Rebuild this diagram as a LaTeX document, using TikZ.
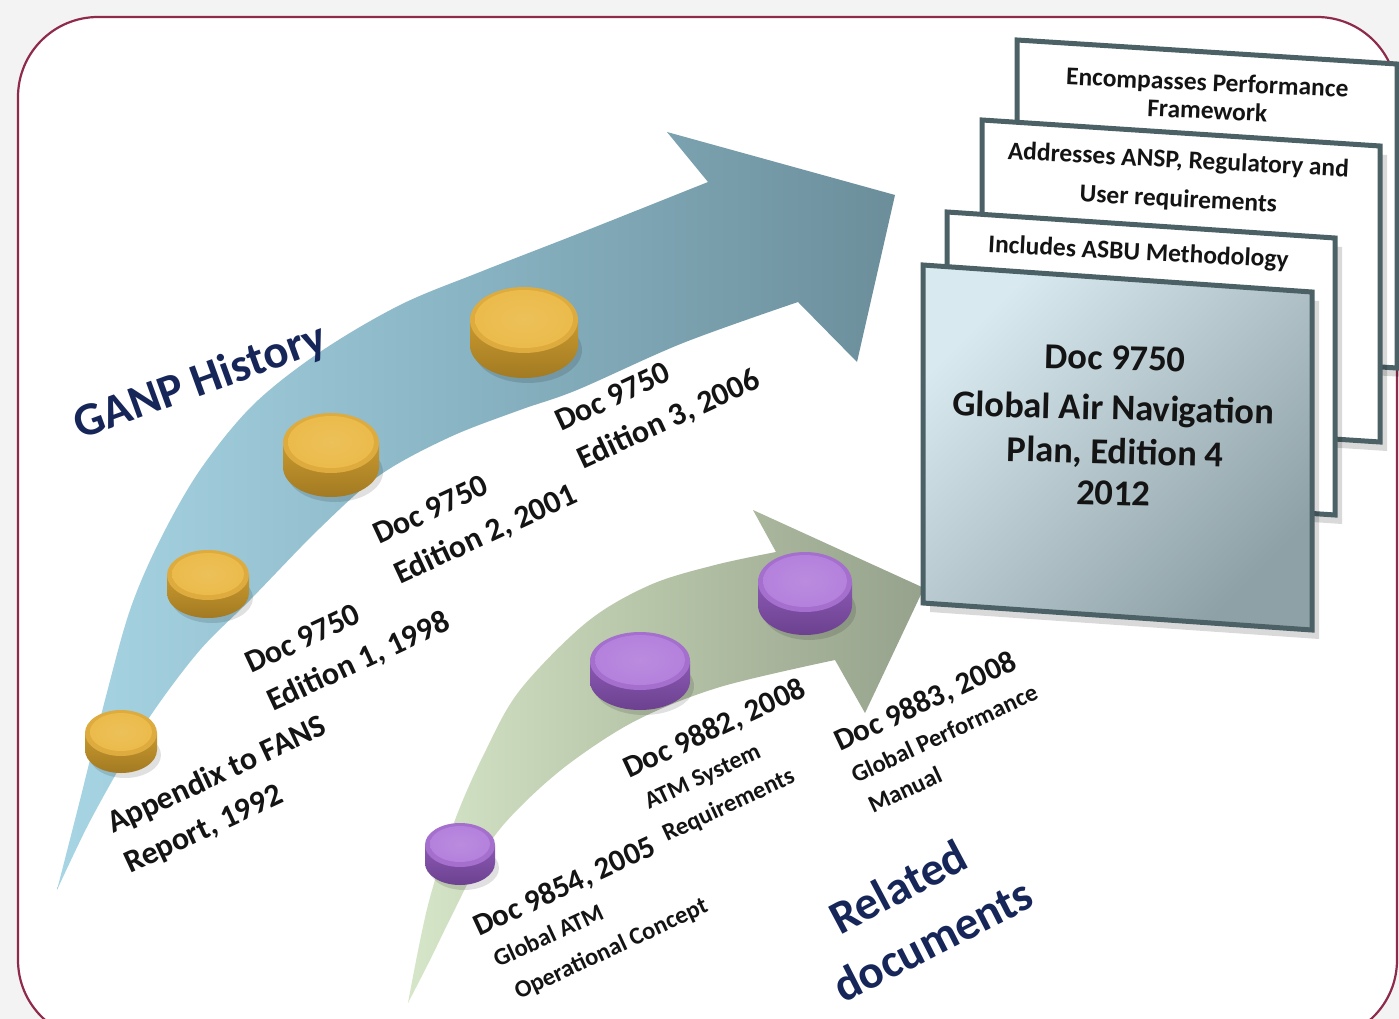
\documentclass[tikz,border=0pt]{standalone}
\usepackage{fontspec}
\setmainfont{Carlito}
\definecolor{bgout}{HTML}{F3F3F3}
\definecolor{framec}{HTML}{8E2B4B}
\definecolor{blueL}{HTML}{A8D5E4}
\definecolor{blueM}{HTML}{88B3C2}
\definecolor{blueD}{HTML}{6C8E9B}
\definecolor{greenL}{HTML}{D6E6C8}
\definecolor{greenM}{HTML}{B4C2A6}
\definecolor{greenD}{HTML}{96A28C}
\definecolor{goldT}{HTML}{EBBB4B}
\definecolor{goldR}{HTML}{DEAB3F}
\definecolor{goldS}{HTML}{C9992F}
\definecolor{goldSD}{HTML}{A27A22}
\definecolor{purT}{HTML}{B481DC}
\definecolor{purR}{HTML}{A46FCD}
\definecolor{purS}{HTML}{8B59B4}
\definecolor{purSD}{HTML}{6C418F}
\definecolor{navy}{HTML}{162659}
\definecolor{txt}{HTML}{141414}
\definecolor{boxedge}{HTML}{4B6165}
\definecolor{boxL}{HTML}{D8E9EF}
\definecolor{boxD}{HTML}{8EA1A7}
\newcommand{\mycoin}[6]{%
  \fill[black, opacity=0.12] (#1+4,#2+#5+5) ellipse[x radius=#3pt, y radius=#4pt];
  \shade[top color=#6S, bottom color=#6SD] (#1-#3,#2) -- (#1-#3,#2+#5) arc[start angle=180, end angle=360, x radius=#3pt, y radius=#4pt] -- (#1+#3,#2) -- cycle;
  \fill[#6R] (#1,#2) ellipse[x radius=#3pt, y radius=#4pt];
  \shade[inner color=#6T!92!white, outer color=#6T] (#1,#2-1) ellipse[x radius=#3pt-5pt, y radius=#4pt-4pt];
}
\begin{document}
\begin{tikzpicture}[x=1pt,y=-1pt,
  lbl/.style={anchor=base west, text=txt, inner sep=0pt, rotate=25, font=\fontsize{32}{38}\selectfont\bfseries},
  dlbl/.style={lbl, font=\fontsize{31}{37}\selectfont\bfseries},
  sublbl/.style={anchor=base west, text=txt, inner sep=0pt, rotate=25, font=\fontsize{24.5}{29}\selectfont\bfseries},
  headlbl/.style={anchor=base west, text=navy, inner sep=0pt, font=\fontsize{47}{54}\selectfont\bfseries},
  boxtxt/.style={anchor=base, text=txt, inner sep=0pt, font=\fontsize{25.5}{30}\selectfont\bfseries},
  maintxt/.style={anchor=base, text=txt, inner sep=0pt, rotate=-1.5, font=\fontsize{36.5}{44}\selectfont\bfseries},
  boxline/.style={draw=boxedge, line width=5pt, line join=miter},
  boxshadow/.style={fill=black, opacity=0.15, shift={(7,9)}}
]
\useasboundingbox (0,0) rectangle (1399,1019);
\clip (0,0) rectangle (1399,1019);
\fill[bgout] (0,0) rectangle (1399,1019);
\draw[framec, line width=2.2pt, fill=white, rounded corners=80pt] (18,17) rectangle (1397,1040);

% blue arrow
\shade[left color=blueL, right color=blueD, middle color=blueM]
  plot[smooth, tension=0.55] coordinates {(57,890) (80,800) (105,700) (130,610) (160,540) (200,470) (253,405) (320,352) (400,305) (480,272) (580,233) (708,182)}
  -- (667,132) -- (895,195) -- (857,362)
  -- plot[smooth, tension=0.55] coordinates {(798,302) (683,343) (577,390) (520,410) (450,437) (380,475) (320,528) (250,600) (200,650) (153,712) (120,767) (87,827) (57,890)}
  -- cycle;

% green arrow
\shade[left color=greenL, right color=greenD, middle color=greenM]
  plot[smooth, tension=0.55] coordinates {(408,1003) (428,905) (455,820) (485,752) (520,690) (587,622) (650,585) (715,565) (776,552)}
  -- (753,510) -- (924,588) -- (865,713)
  -- plot[smooth, tension=0.55] coordinates {(835,660) (720,687) (637,720) (570,763) (520,807) (487,847) (453,913) (430,960) (408,1003)}
  -- cycle;

% coins
\mycoin{121}{733}{36}{23}{17}{gold}
\mycoin{208}{575}{41}{25}{18}{gold}
\mycoin{331}{443}{48}{30}{24}{gold}
\mycoin{524}{320}{54}{33}{25}{gold}
\mycoin{460}{845}{35}{22}{18}{pur}
\mycoin{640}{661}{50}{29}{20}{pur}
\mycoin{805}{582}{47}{30}{23}{pur}

% blue labels
\node[lbl] (l1a) at (113,834) {Appendix to FANS};
\node[lbl] (l1b) at (130,874) {Report, 1992};
\node[lbl] (l2a) at (251,674) {Doc 9750};
\node[lbl] (l2b) at (273,712) {Edition 1, 1998};
\node[lbl] (l3a) at (379,545) {Doc 9750};
\node[lbl] (l3b) at (400,585) {Edition 2, 2001};
\node[lbl] (l4a) at (561,432) {Doc 9750};
\node[lbl] (l4b) at (583,470) {Edition 3, 2006};

% green labels
\node[dlbl] (g1a) at (479,937) {Doc 9854, 2005};
\node[sublbl] (g1b) at (498,968) {Global ATM};
\node[sublbl] (g1c) at (519,1000) {Operational Concept};
\node[dlbl] (g2a) at (629,779) {Doc 9882, 2008};
\node[sublbl] (g2b) at (649,810) {ATM System};
\node[sublbl] (g2c) at (667,842) {Requirements};
\node[dlbl] (g3a) at (840,752) {Doc 9883, 2008};
\node[sublbl] (g3b) at (856,784) {Global Performance};
\node[sublbl] (g3c) at (873,814) {Manual};

% headings
\node[headlbl, rotate=20] (ganp) at (80,440) {GANP History};
\node[headlbl, rotate=28] (rel1) at (840,936) {Related};
\node[headlbl, rotate=27] (rel2) at (843,1004) {documents};

% box stack
\fill[boxshadow] (1017,40) -- (1397,64) -- (1397,368) -- (1017,344) -- cycle;
\path[boxline, fill=white] (1017,40) -- (1397,64) -- (1397,368) -- (1017,344) -- cycle;
\node[boxtxt, rotate=-2.5] (a1) at (1207,91) {Encompasses Performance};
\node[boxtxt, rotate=-2.5] (a2) at (1207,119) {Framework};

\fill[boxshadow] (982,120) -- (1380,146) -- (1380,442) -- (982,416) -- cycle;
\path[boxline, fill=white] (982,120) -- (1380,146) -- (1380,442) -- (982,416) -- cycle;
\node[boxtxt, rotate=-3] (b1) at (1178,168) {Addresses ANSP, Regulatory and};
\node[boxtxt, rotate=-3] (b2) at (1178,207) {User requirements};

\fill[boxshadow] (947,212) -- (1335,238) -- (1335,515) -- (947,489) -- cycle;
\path[boxline, fill=white] (947,212) -- (1335,238) -- (1335,515) -- (947,489) -- cycle;
\node[boxtxt, rotate=-3] (c1) at (1138,260) {Includes ASBU Methodology};

\fill[boxshadow] (923,265) -- (1312,292) -- (1312,630) -- (923,603) -- cycle;
\shade[top color=boxL, bottom color=boxD, shading angle=45] (923,265) -- (1312,292) -- (1312,630) -- (923,603) -- cycle;
\draw[boxline] (923,265) -- (1312,292) -- (1312,630) -- (923,603) -- cycle;
\node[maintxt] (d1) at (1115,370) {Doc 9750};
\node[maintxt] (d2) at (1113,420) {Global Air Navigation};
\node[maintxt] (d3) at (1115,464) {Plan, Edition 4};
\node[maintxt] (d4) at (1113,505) {2012};
\end{tikzpicture}
\end{document}
